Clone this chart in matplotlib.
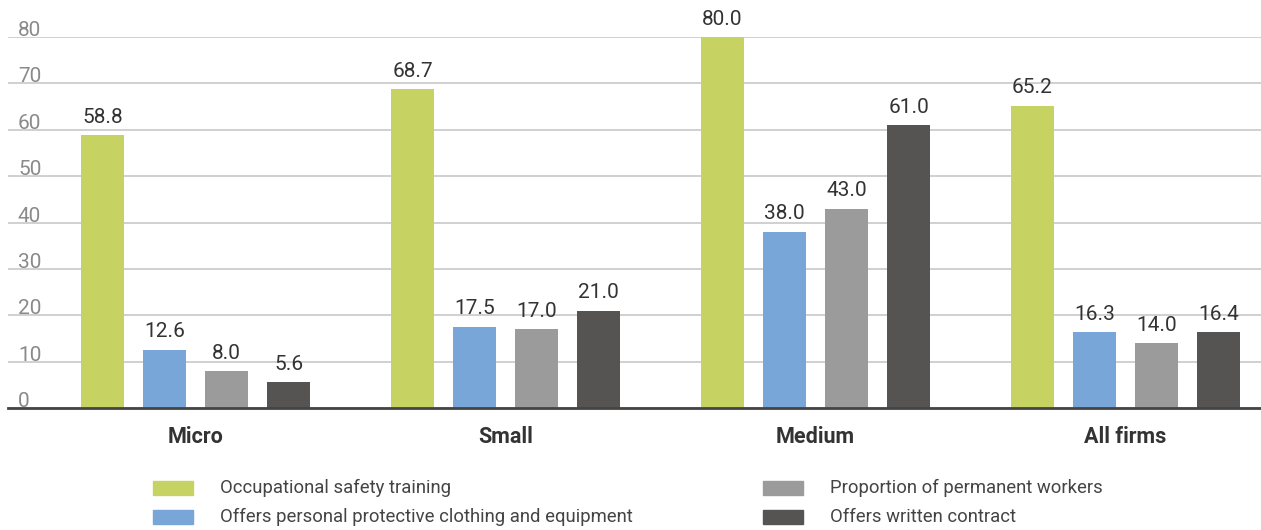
import matplotlib.pyplot as plt
import numpy as np

plt.rcParams['font.family'] = ['Roboto', 'DejaVu Sans']

categories = ['Micro', 'Small', 'Medium', 'All firms']
series_names = ['Occupational safety training',
                'Offers personal protective clothing and equipment',
                'Proportion of permanent workers',
                'Offers written contract']
safety_training = [58.8, 68.7, 80.0, 65.2]
protective_equipment = [12.6, 17.5, 38.0, 16.3]
permanent_workers = [8.0, 17.0, 43.0, 14.0]
written_contract = [5.6, 21.0, 61.0, 16.4]
series_values = [safety_training, protective_equipment, permanent_workers, written_contract]
colors = ['#c6d362', '#79a6d8', '#9b9b9c', '#555452']
yticks = [0, 10, 20, 30, 40, 50, 60, 70, 80]

W, H = 1261, 530
fig = plt.figure(figsize=(W / 100, H / 100), dpi=100)
# axes in pixel terms: left 8, right 1261, baseline 408, top (80) at 37
ax = fig.add_axes([8 / W, (H - 408) / H, (W - 8) / W, (408 - 37) / H])

x = np.arange(len(categories))
slot = 0.2
width = slot * 43 / 62
for i, vals in enumerate(series_values):
    pos = x + (i - 1.5) * slot
    ax.bar(pos, vals, width=width, color=colors[i], zorder=3, label=series_names[i])
    for p, v in zip(pos, vals):
        ax.text(p, v + 1.8, f'{v:.1f}', ha='center', va='bottom', fontsize=15,
                color='#333333', clip_on=False)

px = 1 / 310  # data units per pixel
ax.set_xlim(-187.5 * px, (W - 8 - 187.5) * px)
ax.set_ylim(0, 80)

for t in yticks:
    ax.axhline(t, color='#c8c8c8', linewidth=1.2, zorder=1)
    ax.text(-177.5 * px, t + 0.2, str(t), ha='left', va='baseline', fontsize=15,
            color='#8a8a8a', zorder=2)

ax.set_xticks([])
ax.set_yticks([])
for s in ['top', 'right', 'left']:
    ax.spines[s].set_visible(False)
ax.spines['bottom'].set_color('#444444')
ax.spines['bottom'].set_linewidth(2)
ax.spines['bottom'].set_zorder(4)

for xi, c in zip(x, categories):
    ax.text(xi, -6.3, c, ha='center', va='center', fontsize=15.5, fontweight='bold',
            color='#333333', clip_on=False)

# legend drawn manually in figure pixel coordinates
leg_pos = [(153, 488), (153, 517), (763, 488), (763, 517)]
for (lx, ly), name, col in zip(leg_pos, series_names, colors):
    fig.patches.append(plt.Rectangle((lx / W, (H - ly - 7) / H), 40 / W, 14 / H,
                                     transform=fig.transFigure, color=col))
    fig.text((lx + 67) / W, (H - ly) / H, name, ha='left', va='center',
             fontsize=13.3, color='#444444')

fig.savefig('out.png', dpi=100)
